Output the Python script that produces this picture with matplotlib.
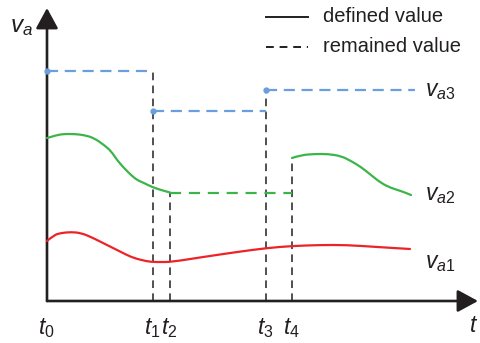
import matplotlib
matplotlib.use("Agg")
import matplotlib.pyplot as plt
from matplotlib.path import Path
from matplotlib.patches import PathPatch

plt.rcParams["font.family"] = ["Liberation Sans", "DejaVu Sans"]
plt.rcParams["mathtext.fontset"] = "custom"
plt.rcParams["mathtext.rm"] = "Liberation Sans"
plt.rcParams["mathtext.it"] = "Liberation Sans:italic"

# switching instants
t_marks = [0.0, 1.06, 1.23, 2.19, 2.45]
t_names = ["$t_0$", "$t_1$", "$t_2$", "$t_3$", "$t_4$"]

# v_a1 (red), defined all the way
red_t = [0, 0.07, 0.14, 0.24, 0.34, 0.44, 0.54, 0.64, 0.74, 0.84, 0.94, 1.04,
         1.14, 1.24, 1.56, 1.90, 2.20, 2.45, 2.73, 3.00, 3.30, 3.63]
red_v = [0.60, 0.66, 0.68, 0.69, 0.68, 0.64, 0.59, 0.54, 0.49, 0.44, 0.41, 0.39,
         0.39, 0.39, 0.44, 0.49, 0.53, 0.55, 0.56, 0.56, 0.54, 0.52]

# v_a2 (green): defined, remained, defined again
green1_t = [0.00, 0.10, 0.17, 0.27, 0.37, 0.47, 0.57, 0.64, 0.70, 0.77, 0.84,
            0.90, 0.97, 1.05, 1.14, 1.23]
green1_v = [1.63, 1.66, 1.67, 1.67, 1.66, 1.63, 1.56, 1.50, 1.41, 1.33, 1.26,
            1.21, 1.18, 1.14, 1.11, 1.085]
green_hold = 1.08
green2_t = [2.45, 2.54, 2.68, 2.81, 2.94, 3.04, 3.14, 3.24, 3.34, 3.44, 3.54, 3.64]
green2_v = [1.43, 1.46, 1.47, 1.47, 1.45, 1.40, 1.34, 1.26, 1.18, 1.13, 1.10, 1.06]

# v_a3 (blue): remained values only
blue_t = [[0.0, 1.06], [1.06, 2.19], [2.19, 3.68]]
blue_v = [2.30, 1.90, 2.11]

BLACK = "#231f20"
RED = "#ec2327"
GREEN = "#3bb54a"
BLUE = "#6a9edc"


def smooth_curve(ax, ts, vs, color):
    # read points used as quadratic bezier controls, so the line comes out smooth
    pts = list(zip(ts, vs))
    verts = [pts[0]]
    codes = [Path.MOVETO]
    for i in range(1, len(pts) - 1):
        mid = ((pts[i][0] + pts[i + 1][0]) / 2, (pts[i][1] + pts[i + 1][1]) / 2)
        verts += [pts[i], mid]
        codes += [Path.CURVE3, Path.CURVE3]
    verts.append(pts[-1])
    codes.append(Path.LINETO)
    ax.add_patch(PathPatch(Path(verts, codes), fill=False, edgecolor=color,
                           lw=1.6, capstyle="round", joinstyle="round", zorder=4))


fig = plt.figure(figsize=(4.8, 3.43), dpi=100)
ax = fig.add_axes([0, 0, 1, 1])
ax.set_xlim(-0.47, 4.33)
ax.set_ylim(-0.42, 3.01)
ax.axis("off")

# axes arrows
arrow = dict(arrowstyle="-|>,head_length=1.25,head_width=0.68", mutation_scale=10,
             lw=1.9, color=BLACK, shrinkA=0, shrinkB=0)
ax.annotate("", xy=(0, 2.93), xytext=(0, 0), arrowprops=arrow)
ax.annotate("", xy=(4.31, 0), xytext=(0, 0), arrowprops=arrow)

# vertical dashed guides
guide_top = [blue_v[0], green_hold, blue_v[2], green2_v[0]]
for t, top in zip(t_marks[1:], guide_top):
    ax.plot([t, t], [0, top], color=BLACK, lw=1.1, dashes=(5, 3.5), zorder=2)

# blue remained values
for seg, v in zip(blue_t, blue_v):
    ax.plot(seg, [v, v], color=BLUE, lw=1.6, dashes=(5, 3), zorder=3)
    ax.plot(seg[0], v, "o", color=BLUE, ms=3.5, zorder=3)

# green
smooth_curve(ax, green1_t, green1_v, GREEN)
ax.plot([t_marks[2], t_marks[4]], [green_hold, green_hold], color=GREEN, lw=1.6,
        dashes=(5, 3.5), zorder=4)
smooth_curve(ax, green2_t, green2_v, GREEN)

# red
smooth_curve(ax, red_t, red_v, RED)

# labels
fs = 16.5
for t, name in zip(t_marks, t_names):
    ax.text(t - 0.01, -0.27, name, ha="center", va="center", fontsize=fs, color=BLACK)
ax.text(4.27, -0.25, "$t$", ha="center", va="center", fontsize=fs, color=BLACK)
ax.text(-0.25, 2.74, "$v_a$", ha="center", va="center", fontsize=17.5, color=BLACK)
ax.text(3.78, blue_v[2] - 0.01, "$v_{a3}$", ha="left", va="center", fontsize=fs, color=BLACK)
ax.text(3.78, 1.07, "$v_{a2}$", ha="left", va="center", fontsize=fs, color=BLACK)
ax.text(3.78, 0.38, "$v_{a1}$", ha="left", va="center", fontsize=fs, color=BLACK)

# legend drawn by hand
ax.plot([2.19, 2.61], [2.84, 2.84], color=BLACK, lw=1.4)
ax.plot([2.19, 2.61], [2.54, 2.54], color=BLACK, lw=1.4, dashes=(4, 3))
ax.text(2.76, 2.84, "defined value", ha="left", va="center", fontsize=14.5, color=BLACK)
ax.text(2.76, 2.54, "remained value", ha="left", va="center", fontsize=14.5, color=BLACK)

fig.savefig("out.png", dpi=100)
